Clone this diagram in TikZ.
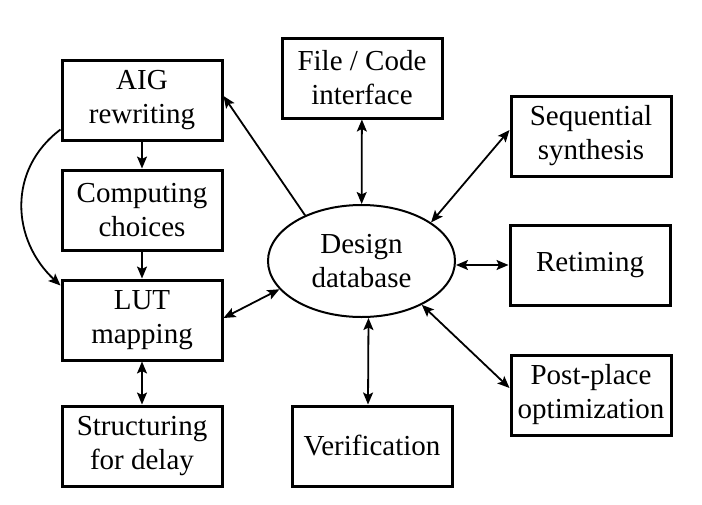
\documentclass[tikz,border=0pt]{standalone}
\usepackage{fontspec}
\setmainfont{Liberation Serif}
\usetikzlibrary{positioning, shapes.geometric, arrows.meta}

\begin{document}
\begin{tikzpicture}[x=1pt, y=-1pt,
    blk/.style={draw, line width=3pt, minimum width=160pt, minimum height=80pt, inner sep=0pt, align=center,
        font=\fontsize{29}{34}\selectfont},
    dbase/.style={draw, ellipse, line width=2pt, minimum width=187pt, minimum height=112pt, inner sep=0pt, align=center,
        font=\fontsize{29}{34}\selectfont},
    tip/.tip={Stealth[length=12pt, width=10pt, inset=2.5pt]},
    one/.style={-tip, line width=1.8pt},
    bi/.style={tip-tip, line width=1.8pt}]
    \useasboundingbox (0,0) rectangle (702,504);

    \node[blk] (aig) at (142,100) {AIG\\rewriting};
    \node[blk] (comp) [below=27pt of aig] {Computing\\choices};
    \node[blk] (lut) [below=27pt of comp] {LUT\\mapping};
    \node[blk] (struct) [below=43pt of lut] {Structuring\\for delay};
    \node[blk] (file) at (362,78) {File / Code\\interface};
    \node[dbase] (db) at (361.5,261) {Design\\database};
    \node[blk] (seq) at (591,136) {Sequential\\synthesis};
    \node[blk] (ret) at (590,265) {Retiming};
    \node[blk] (post) at (591,395) {Post-place\\optimization};
    \node[blk] (verif) at (372,446) {Verification};

    \path[one]
    (aig) edge (comp)
    (comp) edge (lut)
    ([yshift=12pt]aig.south west) edge[out=217, in=137, looseness=1.1] ([yshift=-7pt]lut.north west)
    (db.141) edge ([yshift=4pt]aig.east);

    \path[bi]
    (lut) edge (struct)
    (db.199) edge ([yshift=2pt]lut.east)
    (file) edge (db)
    ([xshift=-4pt]verif.north) edge ([xshift=7pt]db.south)
    (db.29) edge ([yshift=6pt]seq.west)
    (ret.west -| db.east) edge (ret.west)
    (db.-36) edge ([yshift=7pt]post.west);
\end{tikzpicture}
\end{document}
